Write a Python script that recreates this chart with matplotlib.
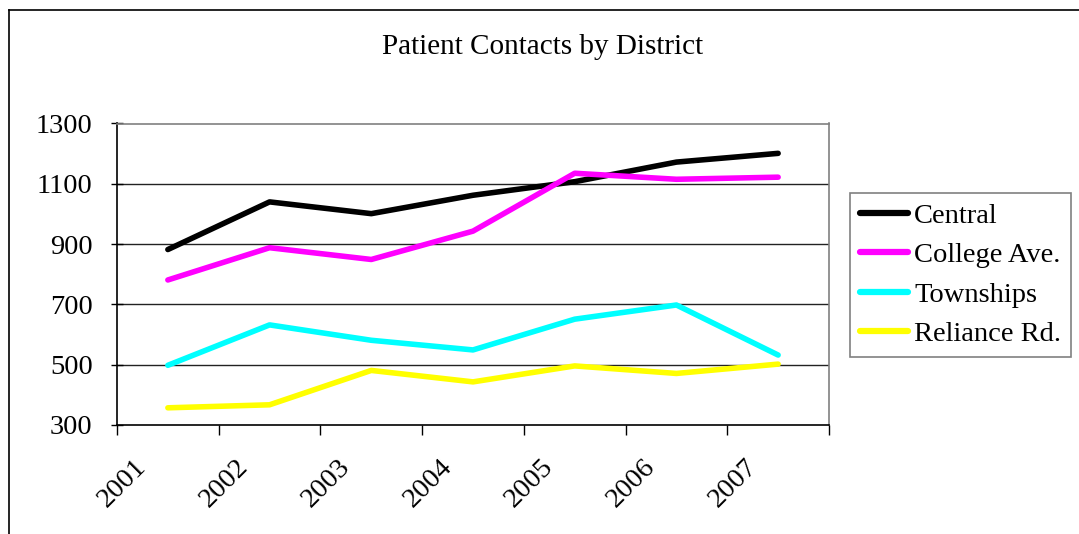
import matplotlib
matplotlib.use("Agg")
import matplotlib.pyplot as plt
import matplotlib.transforms as mtransforms
from matplotlib.lines import Line2D

years = ["2001", "2002", "2003", "2004", "2005", "2006", "2007"]
central = [882, 1040, 1001, 1062, 1107, 1172, 1201]
college = [781, 888, 849, 943, 1135, 1115, 1122]
townships = [498, 632, 581, 549, 651, 698, 532]
reliance = [357, 367, 481, 443, 496, 471, 502]

series = [
    ("Central", central, "#000000"),
    ("College Ave.", college, "#ff00ff"),
    ("Townships", townships, "#00ffff"),
    ("Reliance Rd.", reliance, "#ffff00"),
]

W, H = 1079, 534
plt.rcParams["font.family"] = ["Liberation Serif", "DejaVu Serif"]
fs = 20.5

fig = plt.figure(figsize=(W / 100, H / 100), dpi=100)
ax = fig.add_axes([117 / W, 1 - 425 / H, (829 - 117) / W, (425 - 123.5) / H])

x = list(range(len(years)))
for name, vals, col in series:
    ax.plot(x, vals, color=col, lw=4, label=name, solid_capstyle="round",
            solid_joinstyle="round", zorder=3)

ax.set_xlim(-0.5, len(years) - 0.5)
ax.set_ylim(300, 1300)
ax.set_yticks([300, 500, 700, 900, 1100, 1300])
ax.tick_params(axis="y", direction="inout", length=9, width=1, labelsize=fs, pad=13)
for yv in [500, 700, 900, 1100]:
    ax.axhline(yv, color="#222222", lw=1, zorder=1)

# category boundaries get tick marks, labels sit at the category centres
ax.set_xticks([i - 0.5 for i in range(len(years) + 1)])
ax.set_xticklabels([])
ax.tick_params(axis="x", which="major", direction="out", length=7, width=1)
ax.set_xticks(x, minor=True)
ax.set_xticklabels(years, minor=True, fontsize=fs)
ax.tick_params(axis="x", which="minor", length=0, pad=0)
offset = mtransforms.ScaledTranslation(-25 / 100, -38 / 100, fig.dpi_scale_trans)
for lab in ax.get_xticklabels(minor=True):
    lab.set_rotation(45)
    lab.set_rotation_mode("anchor")
    lab.set_ha("right")
    lab.set_va("center")
    lab.set_transform(lab.get_transform() + offset)

for s in ["left", "bottom"]:
    ax.spines[s].set_color("black")
    ax.spines[s].set_linewidth(1.2)
for s in ["top", "right"]:
    ax.spines[s].set_color("#808080")
    ax.spines[s].set_linewidth(1.2)

fig.text(543 / W, 1 - 47 / H, "Patient Contacts by District", ha="center",
         va="center", fontsize=21)

leg = fig.legend(loc="upper left", bbox_to_anchor=(850 / W, 1 - 193 / H),
                 fontsize=fs, handlelength=1.7, handletextpad=0.2,
                 labelspacing=0.47, borderpad=0.35, borderaxespad=0,
                 fancybox=False, framealpha=1, edgecolor="#808080")
leg.get_frame().set_linewidth(1.2)
for h in leg.legend_handles:
    h.set_linewidth(4.5)

# outer chart border (clipped at right/bottom in the source)
fig.add_artist(Line2D([9 / W, 1], [1 - 10 / H, 1 - 10 / H], color="black", lw=1.2))
fig.add_artist(Line2D([9 / W, 9 / W], [0, 1 - 10 / H], color="black", lw=1.2))

fig.savefig("out.png", dpi=100)
